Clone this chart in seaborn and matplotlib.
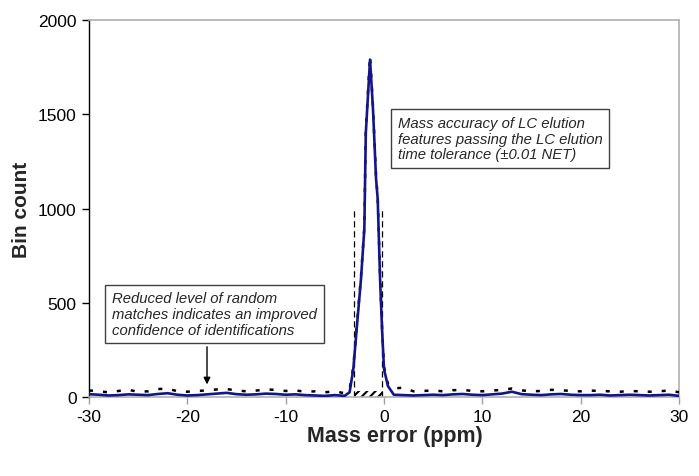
import matplotlib
matplotlib.use("Agg")
import matplotlib.pyplot as plt
import seaborn as sns
import pandas as pd
import numpy as np

# ---- data ----
x_left = [-30, -29, -28, -27, -26, -25, -24, -23, -22, -21, -20, -19, -18, -17,
          -16, -15, -14, -13, -12, -11, -10, -9, -8, -7, -6, -5, -4]
solid_left = [15, 12, 8, 10, 14, 12, 10, 16, 20, 12, 8, 10, 14, 18,
              22, 15, 12, 14, 18, 16, 12, 14, 10, 8, 6, 10, 6]
dashed_left = [35, 30, 25, 32, 38, 28, 30, 42, 45, 30, 28, 32, 35, 40,
               42, 35, 30, 34, 40, 38, 32, 35, 28, 30, 25, 30, 20]

x_peak = [-3.5, -3.12, -2.78, -2.34, -2.0, -1.85, -1.42, -1.12, -0.81, -0.64,
          -0.4, -0.2, 0.0, 0.4]
solid_peak = [25, 148, 360, 626, 891, 1400, 1790, 1528, 1159, 1050,
              626, 360, 148, 58]
dashed_peak = [40, 160, 370, 640, 900, 1420, 1810, 1540, 1170, 1060,
               640, 370, 160, 70]

x_right = [1, 2, 3, 4, 5, 6, 7, 8, 9, 10, 11, 12, 13, 14, 15,
           16, 17, 18, 19, 20, 21, 22, 23, 24, 25, 26, 27, 28, 29, 30]
solid_right = [12, 10, 8, 10, 12, 10, 14, 16, 12, 10, 14, 18, 28, 15, 12,
               10, 14, 16, 12, 10, 10, 12, 8, 10, 12, 10, 8, 10, 12, 6]
dashed_right = [45, 50, 30, 32, 35, 30, 36, 38, 32, 30, 34, 38, 45, 35, 30,
                32, 38, 36, 32, 30, 34, 32, 30, 28, 32, 30, 28, 30, 35, 25]

tolerance_window = [-3.05, -0.2]
window_line_height = 1000
window_bar_height = 32

x_ticks = [-30, -20, -10, 0, 10, 20, 30]
y_ticks = [0, 500, 1000, 1500, 2000]

note_top = "Mass accuracy of LC elution\nfeatures passing the LC elution\ntime tolerance (\u00b10.01 NET)"
note_bottom = "Reduced level of random\nmatches indicates an improved\nconfidence of identifications"

# ---- build frame ----
xs = x_left + x_peak + x_right
df = pd.DataFrame({
    "x": xs + xs,
    "y": solid_left + solid_peak + solid_right + dashed_left + dashed_peak + dashed_right,
    "series": ["solid"] * len(xs) + ["dashed"] * len(xs),
})

sns.set_style("white")
plt.rcParams["font.family"] = ["Liberation Sans", "DejaVu Sans"]
plt.rcParams["axes.unicode_minus"] = False
plt.rcParams["hatch.linewidth"] = 1.5

fig = plt.figure(figsize=(6.99, 4.77), dpi=100)
ax = fig.add_axes([89 / 699, 1 - 398 / 477, 590 / 699, 377 / 477])

# hatched tolerance window
ax.bar([(tolerance_window[0] + tolerance_window[1]) / 2], [window_bar_height],
       width=tolerance_window[1] - tolerance_window[0], color="white",
       edgecolor="black", hatch="////", linewidth=0, zorder=1)
ax.vlines(tolerance_window, 0, window_line_height, colors="black",
          linestyles=(0, (5, 3)), linewidth=0.9, zorder=2)

sns.lineplot(data=df[df.series == "dashed"], x="x", y="y", ax=ax, color="black",
             linewidth=1.8, linestyle=(0, (1.6, 4.0)), zorder=3, legend=False)
sns.lineplot(data=df[df.series == "solid"], x="x", y="y", ax=ax, color="#15158a",
             linewidth=1.9, zorder=4, legend=False)

ax.set_xlim(-30, 30)
ax.set_ylim(0, 2000)
ax.set_xticks(x_ticks)
ax.set_yticks(y_ticks)
ax.tick_params(axis="both", labelsize=12.5, length=5, width=1, direction="out")
ax.tick_params(axis="x", colors="#a0a0a0", labelcolor="black", pad=4)
ax.tick_params(axis="y", colors="black", labelcolor="black", pad=4)
ax.xaxis.set_ticks_position("bottom")
ax.yaxis.set_ticks_position("left")

for side in ["top", "right", "bottom"]:
    ax.spines[side].set_color("#b0b0b0")
    ax.spines[side].set_linewidth(1.2)
ax.spines["left"].set_color("black")
ax.spines["left"].set_linewidth(1.0)

ax.set_xlabel("Mass error (ppm)", fontsize=15.5, fontweight="bold")
ax.xaxis.set_label_coords(0.519, -0.075)
ax.set_ylabel("Bin count", fontsize=15, fontweight="bold", labelpad=5)

box = dict(boxstyle="square,pad=0.45", facecolor="white", edgecolor="#404040", linewidth=1)
ax.text(1.42, 1371, note_top, fontsize=10.7, style="italic", va="center", ha="left",
        bbox=box, linespacing=1.15, zorder=6)
ax.text(-27.66, 440, note_bottom, fontsize=10.7, style="italic", va="center",
        ha="left", bbox=box, linespacing=1.15, zorder=6)
ax.annotate("", xy=(-18, 52), xytext=(-18, 281),
            arrowprops=dict(arrowstyle="-|>", color="black", lw=1, mutation_scale=10),
            zorder=6)

fig.savefig("out.png", dpi=100)
